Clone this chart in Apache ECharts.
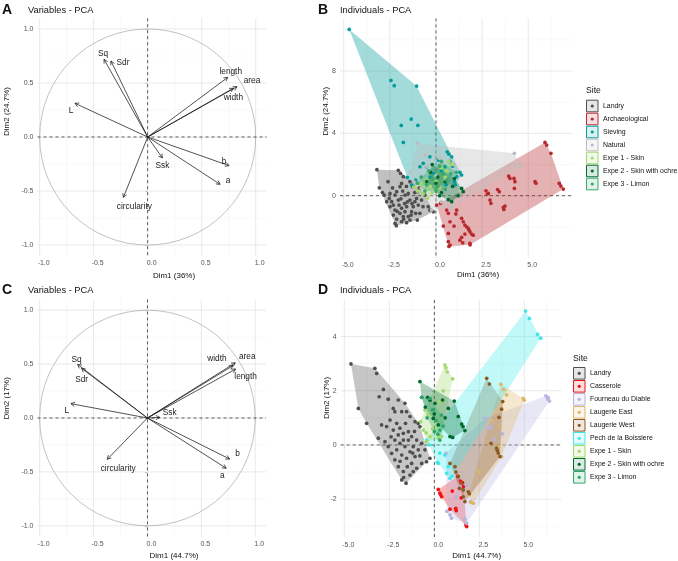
<!DOCTYPE html>
<html><head><meta charset="utf-8">
<script src="https://cdn.jsdelivr.net/npm/echarts@6/dist/echarts.min.js"></script>
<style>html,body{margin:0;padding:0;background:#fff}#c{width:678px;height:561px}</style>
</head><body><div id="c"></div>
<script>
// ================= DATA =================
const varNames = ['Sq','Sdr','L','length','area','width','b','a','Ssk','circularity'];
// Panel A (Dim1 36%, Dim2 24.7%)
const varA_x = [-0.404,-0.340,-0.673,0.741,0.827,0.793,0.753,0.670,0.136,-0.225];
const varA_y = [0.719,0.704,0.312,0.552,0.466,0.451,-0.265,-0.438,-0.194,-0.559];
// Panel C (Dim1 44.7%, Dim2 17%)
const varC_x = [-0.648,-0.611,-0.710,0.818,0.815,0.793,0.762,0.731,0.114,-0.373];
const varC_y = [0.497,0.460,0.133,0.454,0.512,0.485,-0.380,-0.466,0.006,-0.383];

const corTicks = [-1,-0.5,0,0.5,1];
const corMinor = [-0.75,-0.25,0.25,0.75];
const indXTicks = [-5,-2.5,0,2.5,5];
const indXMinor = [-3.75,-1.25,1.25,3.75,6.25];
const indB_YTicks = [0,4,8];
const indB_YMinor = [-2,2,6,10];
const indD_YTicks = [-2,0,2,4];
const indD_YMinor = [-3,-1,1,3,5];

// Panel B groups
const B_Landry = [[-3.20,1.67],[-2.04,1.63],[-3.07,0.51],[-2.80,0.04],[-2.49,0.15],[-2.53,-0.17],[-2.40,-0.38],[-2.31,-0.60],[-2.22,-0.92],[-2.22,-1.78],[-2.13,-1.50],[-1.95,-1.13],[-1.86,-0.80],[-1.77,-1.34],[-1.68,-1.02],[-1.59,-0.70],[-1.50,-1.34],[-1.41,-1.56],[-1.32,-1.02],[-1.23,-0.70],[-1.14,-0.38],[-1.05,-0.17],[-0.96,-0.60],[-0.87,-1.13],[-1.01,-1.56],[-2.13,0.26],[-1.95,0.58],[-1.86,0.79],[-1.77,1.22],[-1.92,1.44],[-1.50,0.15],[-1.41,-0.28],[-1.68,0.04],[-2.04,-0.28],[-2.22,0.04],[-1.26,0.58],[-1.41,0.90],[-1.01,0.26],[-1.10,-1.13],[-1.59,-1.73],[-1.86,-1.66],[-2.31,-1.24],[-2.49,-0.70],[-2.67,-0.38],[-0.78,-0.28],[-0.60,0.04],[-0.42,-0.70],[-0.33,-0.92],[-0.14,-1.03],[-1.70,-0.50],[-1.90,-0.20],[-2.00,-0.60],[-1.55,-0.40],[-1.30,-0.50],[-1.80,0.30],[-2.35,0.50],[-2.60,0.90],[-2.90,0.20],[-1.15,0.20],[-0.90,0.50],[-1.60,0.60],[-2.10,-1.00],[-1.75,-1.50],[-1.35,-1.25],[-0.70,-0.70],[-2.15,-1.92]];
const B_Arch = [[5.91,3.42],[6.00,3.25],[6.23,2.72],[5.37,0.90],[5.42,0.80],[6.68,0.79],[6.77,0.62],[6.90,0.43],[3.94,1.26],[4.01,1.11],[4.23,1.11],[4.28,0.90],[4.25,0.47],[2.71,0.32],[2.78,0.11],[2.84,0.15],[2.93,-0.28],[2.98,-0.49],[3.34,0.40],[3.43,0.26],[3.65,-0.75],[3.68,-0.88],[3.74,-0.66],[0.25,-0.49],[0.04,-0.60],[0.58,-0.92],[0.67,-1.13],[1.12,-0.92],[1.08,-1.17],[1.39,-1.45],[1.48,-1.67],[1.57,-1.88],[1.66,-1.99],[1.75,-2.10],[1.80,-2.21],[1.84,-2.31],[1.93,-2.46],[2.02,-2.53],[1.57,-2.46],[1.39,-2.67],[0.76,-1.67],[0.98,-1.95],[0.40,-1.95],[0.67,-2.42],[0.67,-2.95],[0.76,-3.17],[1.30,-2.85],[1.45,-3.02],[1.84,-3.06],[0.70,-3.25],[1.85,-3.15]];
const B_Sieving = [[-4.70,10.67],[-2.44,7.40],[-2.26,7.06],[-1.05,7.04],[-1.34,4.92],[-1.88,4.51],[-0.98,4.51],[-1.77,3.42],[-1.55,1.18],[-1.32,0.69],[-0.33,2.50],[0.61,2.82],[0.70,2.67],[0.85,2.50],[0.75,2.20],[1.30,1.50],[1.12,1.22],[1.39,1.33],[0.49,1.86],[-0.14,1.43],[-0.69,2.08],[0.13,2.29],[-0.51,1.86],[-0.87,1.86],[0.30,1.60],[0.90,1.90],[-0.30,1.20],[0.55,0.70],[1.00,0.90],[-1.10,1.00],[1.05,0.70]];
const B_Natural = [[-1.01,3.36],[4.25,2.72],[4.52,2.01],[4.59,1.86],[0.85,-0.75],[-0.24,-0.92],[-1.40,1.50],[-1.20,0.90],[-0.50,1.90],[0.20,2.40],[1.00,2.00],[0.50,1.00],[-0.80,0.50],[1.30,0.30],[0.30,-0.40],[-0.60,2.60],[0.00,1.30]];
const B_Expe1 = [[-1.20,0.55],[-1.00,0.30],[-0.70,0.10],[-0.45,-0.15],[-0.20,0.20],[0.20,0.50],[0.50,1.20],[0.70,2.20],[0.30,1.80],[-0.50,1.00],[-0.80,0.80],[0.00,0.90],[0.60,1.60],[-0.30,0.60],[0.90,2.00]];
const B_Expe2 = [[1.39,0.47],[1.48,0.26],[1.20,0.00],[0.85,-0.38],[0.67,-0.25],[0.30,0.20],[0.00,0.80],[-0.30,1.50],[0.10,1.20],[0.50,0.90],[0.90,0.60],[-0.50,0.90],[0.20,0.00],[1.00,1.10],[-0.20,2.00]];
const B_Expe3 = [[-0.80,1.20],[-0.50,0.70],[-0.20,1.10],[0.10,0.60],[0.40,1.40],[0.60,1.00],[0.20,1.90],[-0.40,1.60],[0.80,1.40],[-1.00,0.80],[0.00,0.30],[0.30,2.20],[-0.60,0.30],[0.50,0.40],[1.10,1.50]];

// Panel D groups
const D_Landry = [[-4.63,2.99],[-3.30,2.83],[-3.20,2.64],[-2.83,2.05],[-3.06,1.78],[-2.56,1.69],[-4.22,1.35],[-3.76,0.80],[-2.00,1.66],[-2.28,1.35],[-2.19,1.23],[-1.81,1.23],[-1.63,1.54],[-1.54,1.23],[-1.35,1.05],[-1.07,0.86],[-0.89,0.80],[-0.80,0.68],[-3.11,0.25],[-2.93,0.74],[-2.46,0.92],[-2.65,0.68],[-2.28,0.55],[-2.09,0.80],[-1.91,0.62],[-1.72,0.43],[-1.44,0.49],[-1.26,0.31],[-0.98,0.18],[-0.70,0.06],[-0.52,-0.18],[-0.43,-0.62],[-0.24,-0.49],[-0.70,-0.68],[-0.98,-0.86],[-1.17,-0.98],[-1.35,-1.11],[-1.57,-1.41],[-1.81,-1.29],[-1.72,-0.98],[-2.00,-0.80],[-2.19,-0.55],[-2.37,-0.31],[-2.56,-0.06],[-2.74,0.12],[-2.09,-0.18],[-1.81,-0.37],[-1.54,-0.49],[-1.26,-0.68],[-1.91,0.06],[-1.63,-0.06],[-1.35,-0.25],[-1.07,-0.43],[-0.89,-0.18],[-1.17,-0.06],[-1.44,0.18],[-1.72,0.18],[-2.19,0.18],[-2.00,0.37],[-1.50,-0.80],[-1.90,-0.60],[-1.20,-0.30],[-0.80,-0.40],[-2.40,0.30],[-1.60,0.80],[-1.10,0.50],[-1.70,-1.20]];
const D_Casserole = [[0.22,-1.64],[0.31,-1.78],[0.36,-1.85],[0.41,-1.91],[0.87,-2.37],[1.19,-2.34],[1.22,-2.42],[1.45,-1.33],[1.57,-1.39],[1.61,-1.54],[1.40,-1.60],[1.50,-1.95],[1.76,-2.95],[1.80,-3.01],[1.30,-1.15],[1.00,-1.70]];
const D_Fourneau = [[6.20,1.81],[6.30,1.70],[6.40,1.62],[6.33,1.75],[2.81,0.98],[3.17,0.68],[3.78,0.41],[3.04,0.62],[0.65,-0.31],[1.43,-1.54],[0.87,-2.58],[0.95,-2.70],[1.70,-2.74],[1.80,-2.89],[0.70,-2.45],[2.00,-2.10],[1.20,-1.90],[1.80,-1.50],[3.30,0.20]];
const D_LaugEast = [[3.70,2.24],[3.85,2.05],[4.02,1.85],[4.94,1.72],[5.00,1.65],[3.65,0.68],[3.56,-0.06],[3.74,-0.43],[2.17,-2.15],[2.05,-2.12],[1.90,-1.85],[2.50,-1.00],[3.20,0.90],[3.50,-0.30]];
const D_LaugWest = [[2.91,2.46],[3.06,2.25],[3.80,1.60],[3.74,1.32],[3.59,1.02],[3.15,0.06],[3.46,-0.12],[3.50,-0.20],[3.55,-0.30],[3.65,-0.43],[0.87,-0.68],[1.15,-0.80],[1.33,-1.17],[1.50,-1.40],[1.61,-1.66],[1.61,-1.91],[1.70,-2.09],[1.89,-1.73],[1.95,-1.80],[1.40,-1.60],[1.20,-1.00]];
const D_Pech = [[5.07,4.94],[5.28,4.67],[5.74,4.08],[5.91,3.94],[-0.43,0.18],[0.17,-0.64],[0.22,-0.68],[0.59,-0.37],[0.69,-1.05],[0.87,-1.23],[0.78,-0.80],[1.00,-1.15],[-0.30,0.00],[0.30,-0.30]];
const D_Expe1 = [[0.59,2.95],[0.65,2.85],[0.72,2.70],[1.02,2.44],[-0.52,1.29],[-0.76,0.86],[-0.61,0.55],[-0.45,0.45],[-0.24,0.31],[0.13,0.74],[0.22,0.25],[0.41,0.31],[-0.33,1.11],[-0.43,0.12],[0.30,1.60],[0.50,2.00],[-0.10,0.60]];
const D_Expe2 = [[-0.80,2.34],[-0.70,1.76],[-0.37,1.76],[-0.24,1.65],[0.04,1.54],[0.46,1.66],[0.78,1.35],[1.11,1.62],[1.33,1.05],[1.52,0.77],[1.60,0.68],[1.70,0.53],[0.87,0.31],[1.02,0.28],[0.22,0.74],[-0.06,0.98],[0.00,1.15],[-0.50,1.40],[0.60,1.00]];
const D_Expe3 = [[-0.70,1.76],[-0.24,1.72],[0.31,0.55],[0.31,0.18],[0.10,0.90],[0.40,1.10],[-0.10,1.30],[0.20,0.40],[0.50,0.70],[-0.40,1.00],[0.00,0.50]];

const B_names = ['Landry','Archaeological','Sieving','Natural','Expe 1 - Skin','Expe 2 - Skin with ochre','Expe 3 - Limon'];
const B_sets = [B_Landry,B_Arch,B_Sieving,B_Natural,B_Expe1,B_Expe2,B_Expe3];
const D_names = ['Landry','Casserole','Fourneau du Diable','Laugerie East','Laugerie West','Pech de la Boissiere','Expe 1 - Skin','Expe 2 - Skin with ochre','Expe 3 - Limon'];
const D_sets = [D_Landry,D_Casserole,D_Fourneau,D_LaugEast,D_LaugWest,D_Pech,D_Expe1,D_Expe2,D_Expe3];

// ================= STYLE =================
const B_colors = ['#4f4f4f','#b82a2f','#009c9c','#bdbdbd','#a3d86c','#006a2e','#38a86c'];
const D_colors = ['#4f4f4f','#f01212','#b7b3df','#dfb668','#8b5a24','#3ee8e8','#a3d86c','#006a2e','#2ea86a'];
const labOffA = [[-1,-6],[12,2],[-4,7],[3,-6],[15,-6],[0,9],[-5,-4],[8,-4],[0,8],[11,9]];
const labOffC = [[-1,-5],[0,11],[-4,7],[10,8],[12,-6],[-16,-7],[8,-5],[-4,7],[10,-5],[11,9]];
const FONT = '"Liberation Sans", Arial, Helvetica, sans-serif';

function rgba(hex,a){const n=parseInt(hex.slice(1),16);return `rgba(${n>>16},${(n>>8)&255},${n&255},${a})`;}
function hull(pts){
  pts=pts.slice().sort((a,b)=>a[0]-b[0]||a[1]-b[1]);
  const cr=(o,a,b)=>(a[0]-o[0])*(b[1]-o[1])-(a[1]-o[1])*(b[0]-o[0]);
  const lo=[],up=[];
  for(const p of pts){while(lo.length>=2&&cr(lo[lo.length-2],lo[lo.length-1],p)<=0)lo.pop();lo.push(p);}
  for(let i=pts.length-1;i>=0;i--){const p=pts[i];while(up.length>=2&&cr(up[up.length-2],up[up.length-1],p)<=0)up.pop();up.push(p);}
  up.pop();lo.pop();return lo.concat(up);
}
function lines(g,vals,dir,color,width,dash,z){
  return {type:'custom',xAxisIndex:g,yAxisIndex:g,z:z,silent:true,animation:false,
    data:vals.map(v=>dir==='v'?[v,0]:[0,v]),
    renderItem(params,api){
      const cs=params.coordSys;
      const st={stroke:color,lineWidth:width,lineDash:dash||null};
      if(dir==='v'){const x=api.coord([api.value(0),0])[0];return{type:'line',shape:{x1:x,y1:cs.y,x2:x,y2:cs.y+cs.height},style:st};}
      const y=api.coord([0,api.value(1)])[1];return{type:'line',shape:{x1:cs.x,y1:y,x2:cs.x+cs.width,y2:y},style:st};
    }};
}
function gridSeries(g,xMaj,xMin,yMaj,yMin){
  return [lines(g,xMin,'v','#f1f1f1',0.5,null,1),lines(g,yMin,'h','#f1f1f1',0.5,null,1),
          lines(g,xMaj,'v','#e6e6e6',0.9,null,1),lines(g,yMaj,'h','#e6e6e6',0.9,null,1),
          lines(g,[0],'v','#3a3a3a',0.8,[3,3],3),lines(g,[0],'h','#3a3a3a',0.8,[3,3],3)];
}
function circleSeries(g){
  return {type:'custom',xAxisIndex:g,yAxisIndex:g,z:2,silent:true,animation:false,data:[[0,0]],
    renderItem(p,api){const c=api.coord([api.value(0),api.value(1)]);const r=api.size([1,1])[0];
      return{type:'circle',shape:{cx:c[0],cy:c[1],r:r},style:{fill:'none',stroke:'#a8a8a8',lineWidth:0.7}};}};
}
function arrowSeries(g,xs,ys,offs){
  return {type:'custom',xAxisIndex:g,yAxisIndex:g,z:6,silent:true,animation:false,
    data:xs.map((x,i)=>[x,ys[i]]),
    renderItem(params,api){
      const i=params.dataIndex;const o=api.coord([0,0]);const t=api.coord([api.value(0),api.value(1)]);
      const dx=t[0]-o[0],dy=t[1]-o[1],L=Math.hypot(dx,dy),ux=dx/L,uy=dy/L;
      const h=4.3,a=0.5,c=Math.cos(a),s=Math.sin(a);
      const p1=[t[0]-h*(ux*c-uy*s),t[1]-h*(uy*c+ux*s)];
      const p2=[t[0]-h*(ux*c+uy*s),t[1]-h*(uy*c-ux*s)];
      return{type:'group',children:[
        {type:'line',shape:{x1:o[0],y1:o[1],x2:t[0],y2:t[1]},style:{stroke:'#1a1a1a',lineWidth:0.75}},
        {type:'polyline',shape:{points:[p1,t,p2]},style:{stroke:'#1a1a1a',lineWidth:0.75,fill:'none'}},
        {type:'text',x:t[0]+offs[i][0],y:t[1]+offs[i][1],style:{text:varNames[i],fill:'#1a1a1a',font:'8.3px '+FONT,align:'center',verticalAlign:'middle'}}
      ]};
    }};
}
function hullSeries(g,pts,color,alpha,name){
  return {type:'custom',name:name,xAxisIndex:g,yAxisIndex:g,z:4,silent:true,animation:false,data:pts,
    renderItem(params,api){
      if(params.dataIndex!==0)return null;
      const px=pts.map(p=>api.coord(p));
      return{type:'polygon',shape:{points:hull(px)},style:{fill:rgba(color,alpha),stroke:'none'}};
    }};
}
function pointSeries(g,pts,color,name){
  return {type:'scatter',name:name,xAxisIndex:g,yAxisIndex:g,z:5,silent:true,animation:false,
    data:pts,symbol:'circle',symbolSize:3.7,itemStyle:{color:color,opacity:1}};
}
function axis(g,min,max,ticks,fmt,isY){
  return {gridIndex:g,type:'value',min:min,max:max,
    axisLine:{show:false},splitLine:{show:false},
    axisTick:{show:true,customValues:ticks,length:2.5,lineStyle:{color:'#666',width:0.6}},
    axisLabel:{customValues:ticks,formatter:fmt,fontSize:7,color:'#555',fontFamily:FONT,margin:isY?4:4,
      padding:isY?0:[0,0,0,8]}};
}
const f1=v=>v.toFixed(1), f0=v=>String(Math.round(v));

const grids=[
  {left:37.5,top:18.2,width:229,height:237.6},
  {left:340,top:18.4,width:232.7,height:239.2},
  {left:37.5,top:299.4,width:228.5,height:237.2},
  {left:340.7,top:300,width:220.5,height:237.1}
];
const xAxes=[axis(0,-1.02,1.1,corTicks,f1),axis(1,-5.2,7.41,indXTicks,f1),axis(2,-1.02,1.1,corTicks,f1),axis(3,-5.2,7.05,indXTicks,f1)];
const yAxes=[axis(0,-1.1,1.1,corTicks,f1,true),axis(1,-3.97,11.38,indB_YTicks,f0,true),axis(2,-1.1,1.1,corTicks,f1,true),axis(3,-3.4,5.35,indD_YTicks,f0,true)];

let series=[];
series=series.concat(gridSeries(0,corTicks,corMinor,corTicks,corMinor),[circleSeries(0),arrowSeries(0,varA_x,varA_y,labOffA)]);
series=series.concat(gridSeries(2,corTicks,corMinor,corTicks,corMinor),[circleSeries(2),arrowSeries(2,varC_x,varC_y,labOffC)]);
series=series.concat(gridSeries(1,indXTicks,indXMinor,indB_YTicks,indB_YMinor));
B_sets.forEach((s,i)=>series.push(hullSeries(1,s,B_colors[i],0.36,B_names[i])));
B_sets.forEach((s,i)=>series.push(pointSeries(1,s,B_colors[i],B_names[i])));
series=series.concat(gridSeries(3,indXTicks,indXMinor,indD_YTicks,indD_YMinor));
D_sets.forEach((s,i)=>series.push(hullSeries(3,s,D_colors[i],0.32,D_names[i])));
D_sets.forEach((s,i)=>series.push(pointSeries(3,s,D_colors[i],D_names[i])));

// ================= TEXT / LEGENDS =================
const g=[];
function txt(x,y,t,font,opts){g.push(Object.assign({type:'text',x:x,y:y,silent:true,style:{text:t,font:font,fill:'#111',align:'left',verticalAlign:'middle'}},opts||{}));}
txt(2,10,'A','bold 14px '+FONT); txt(28,10,'Variables - PCA','9.3px '+FONT);
txt(318,10,'B','bold 14px '+FONT); txt(340,10,'Individuals - PCA','9.3px '+FONT);
txt(2,290.5,'C','bold 14px '+FONT); txt(28,290.5,'Variables - PCA','9.3px '+FONT);
txt(318,290.5,'D','bold 14px '+FONT); txt(340,290.5,'Individuals - PCA','9.3px '+FONT);
function ctr(x,y,t,rot){g.push({type:'text',x:x,y:y,rotation:rot?Math.PI/2:0,silent:true,style:{text:t,font:'8px '+FONT,fill:'#111',align:'center',verticalAlign:'middle'}});}
ctr(174,275.5,'Dim1 (36%)'); ctr(7,111.5,'Dim2 (24.7%)',true);
ctr(478,275,'Dim1 (36%)'); ctr(326,111.3,'Dim2 (24.7%)',true);
ctr(174,556,'Dim1 (44.7%)'); ctr(7,398.3,'Dim2 (17%)',true);
ctr(476.7,556,'Dim1 (44.7%)'); ctr(326.7,398,'Dim2 (17%)',true);
function legend(x,y0,names,colors){
  txt(x,y0-15,'Site','8.6px '+FONT);
  names.forEach((n,i)=>{
    const y=y0+13*i;
    g.push({type:'rect',silent:true,shape:{x:x+0.5,y:y-5.8,width:11.5,height:11.6},style:{fill:rgba(colors[i],0.14),stroke:colors[i],lineWidth:1}});
    g.push({type:'circle',silent:true,shape:{cx:x+6.25,cy:y,r:1.6},style:{fill:colors[i]}});
    txt(x+17,y,n,'6.9px '+FONT);
  });
}
legend(586,106,B_names,B_colors);
legend(573,373.3,D_names,D_colors);

const chart=echarts.init(document.getElementById('c'),null,{renderer:'canvas'});
chart.setOption({animation:false,backgroundColor:'#ffffff',grid:grids,xAxis:xAxes,yAxis:yAxes,series:series,graphic:{elements:g}});
</script></body></html>
